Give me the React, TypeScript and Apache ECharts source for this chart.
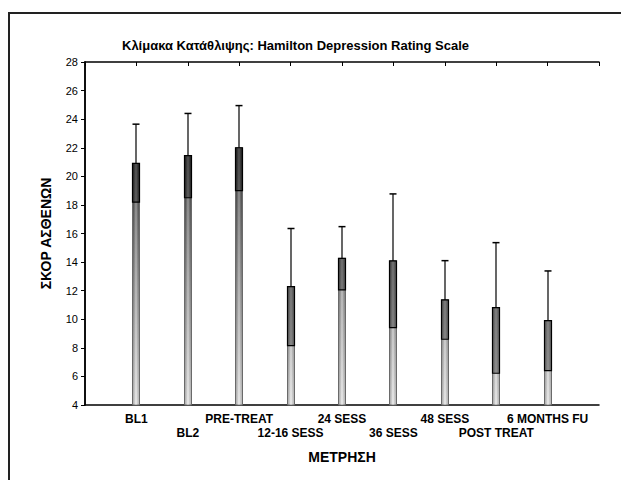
import React, { useEffect, useRef } from "react";
import * as echarts from "echarts";

const categories = ["BL1", "BL2", "PRE-TREAT", "12-16 SESS", "24 SESS", "36 SESS", "48 SESS", "POST TREAT", "6 MONTHS FU"];
const means = [20.9, 21.45, 22.0, 12.28, 14.26, 14.08, 11.35, 10.81, 9.9];
const lowers = [18.2, 18.5, 19.0, 8.15, 12.05, 9.41, 8.6, 6.22, 6.4];
const uppers = [23.65, 24.4, 24.95, 16.35, 16.48, 18.77, 14.1, 15.36, 13.38];
const yTicks = { min: 4, max: 28, interval: 2 };

const FONT = "'Liberation Sans', Arial, sans-serif";

export default function App() {
  const ref = useRef<HTMLDivElement>(null);
  useEffect(() => {
    if (!ref.current) return;
    const chart = echarts.init(ref.current, null, { renderer: "svg" });
    const data = categories.map((c, i) => [i + 1, means[i], lowers[i], uppers[i]]);
    chart.setOption({
      animation: false,
      backgroundColor: "#fff",
      title: {
        text: "Κλίμακα Κατάθλιψης: Hamilton Depression Rating Scale",
        left: 117,
        top: 34,
        textStyle: { fontFamily: FONT, fontSize: 13, fontWeight: "bold", color: "#000" },
      },
      grid: { left: 85, top: 62, right: 22, bottom: 75 },
      xAxis: [
        {
          type: "value",
          min: 0,
          max: 10,
          interval: 1,
          position: "bottom",
          name: "ΜΕΤΡΗΣΗ",
          nameLocation: "middle",
          nameGap: 45,
          nameTextStyle: { fontFamily: FONT, fontSize: 14, fontWeight: "bold", color: "#000" },
          axisLine: { lineStyle: { color: "#000", width: 1.5 } },
          axisTick: { show: false },
          splitLine: { show: false },
          axisLabel: {
            margin: 7,
            fontFamily: FONT,
            fontSize: 12,
            fontWeight: "bold",
            color: "#000",
            lineHeight: 14,
            showMinLabel: false,
            showMaxLabel: false,
            formatter: (v: number) => {
              const i = Math.round(v) - 1;
              if (i < 0 || i >= categories.length) return "";
              return i % 2 === 0 ? categories[i] : "\n" + categories[i];
            },
          },
        },
        {
          type: "value",
          min: 0,
          max: 10,
          interval: 1,
          position: "top",
          axisLine: { lineStyle: { color: "#000", width: 1.5 } },
          axisTick: { show: true, inside: true, length: 4, lineStyle: { color: "#000" } },
          axisLabel: { show: false },
          splitLine: { show: false },
        },
      ],
      yAxis: [
        {
          type: "value",
          min: yTicks.min,
          max: yTicks.max,
          interval: yTicks.interval,
          position: "left",
          name: "ΣΚΟΡ ΑΣΘΕΝΩΝ",
          nameLocation: "middle",
          nameGap: 32,
          nameRotate: 90,
          nameTextStyle: { fontFamily: FONT, fontSize: 14, fontWeight: "bold", color: "#000" },
          axisLine: { show: true, lineStyle: { color: "#000", width: 1.5 } },
          axisTick: { show: false },
          splitLine: { show: false },
          axisLabel: { margin: 7, fontFamily: FONT, fontSize: 11, color: "#000" },
        },
        {
          type: "value",
          min: yTicks.min,
          max: yTicks.max,
          interval: yTicks.interval,
          position: "right",
          axisLine: { show: true, lineStyle: { color: "#000", width: 1.5 } },
          axisTick: { show: true, inside: true, length: 4, lineStyle: { color: "#000" } },
          axisLabel: { show: false },
          splitLine: { show: false },
        },
      ],
      graphic: [
        {
          type: "polyline",
          shape: { points: [[9, 480], [9, 13], [621, 13]] },
          style: { stroke: "#222", lineWidth: 2, fill: "none" },
          silent: true,
        },
      ],
      series: [
        {
          type: "custom",
          xAxisIndex: 0,
          yAxisIndex: 0,
          data,
          renderItem: (params: any, api: any) => {
            const x = api.value(0);
            const m = api.value(1);
            const lo = api.value(2);
            const hi = api.value(3);
            const pBase = api.coord([x, yTicks.min]);
            const pTop = api.coord([x, yTicks.max]);
            const pM = api.coord([x, m]);
            const pL = api.coord([x, lo]);
            const pH = api.coord([x, hi]);
            const w = 7;
            const cx = Math.round(pM[0]);
            const x0 = cx - w / 2;
            const grad = new echarts.graphic.LinearGradient(
              0, pBase[1], 0, pTop[1],
              [
                { offset: 0, color: "#ececec" },
                { offset: 0.35, color: "#a0a0a0" },
                { offset: 0.7, color: "#4a4a4a" },
                { offset: 1, color: "#1a1a1a" },
              ],
              true
            );
            const shine = new echarts.graphic.LinearGradient(
              0, 0, 1, 0,
              [
                { offset: 0, color: "rgba(0,0,0,0.25)" },
                { offset: 0.5, color: "rgba(255,255,255,0.35)" },
                { offset: 1, color: "rgba(0,0,0,0.2)" },
              ]
            );
            return {
              type: "group",
              children: [
                {
                  type: "rect",
                  shape: { x: x0, y: pM[1], width: w, height: pBase[1] - pM[1] },
                  style: { fill: grad, stroke: "#6a6a6a", lineWidth: 1 },
                },
                {
                  type: "rect",
                  shape: { x: x0 + 0.5, y: pM[1], width: w - 1, height: pBase[1] - pM[1] },
                  style: { fill: shine },
                },
                {
                  type: "rect",
                  shape: { x: x0, y: pM[1], width: w, height: pL[1] - pM[1] },
                  style: { fill: "rgba(0,0,0,0.35)", stroke: "#000", lineWidth: 1.2 },
                },
                {
                  type: "line",
                  shape: { x1: cx, y1: pM[1], x2: cx, y2: pH[1] },
                  style: { stroke: "#000", lineWidth: 1.2 },
                },
                {
                  type: "line",
                  shape: { x1: cx - 3.5, y1: pH[1], x2: cx + 3.5, y2: pH[1] },
                  style: { stroke: "#000", lineWidth: 1.5 },
                },
              ],
            };
          },
        },
      ],
    });
    return () => chart.dispose();
  }, []);
  return <div ref={ref} style={{ width: 621, height: 480, position: "absolute", left: 0, top: 0 }} />;
}
